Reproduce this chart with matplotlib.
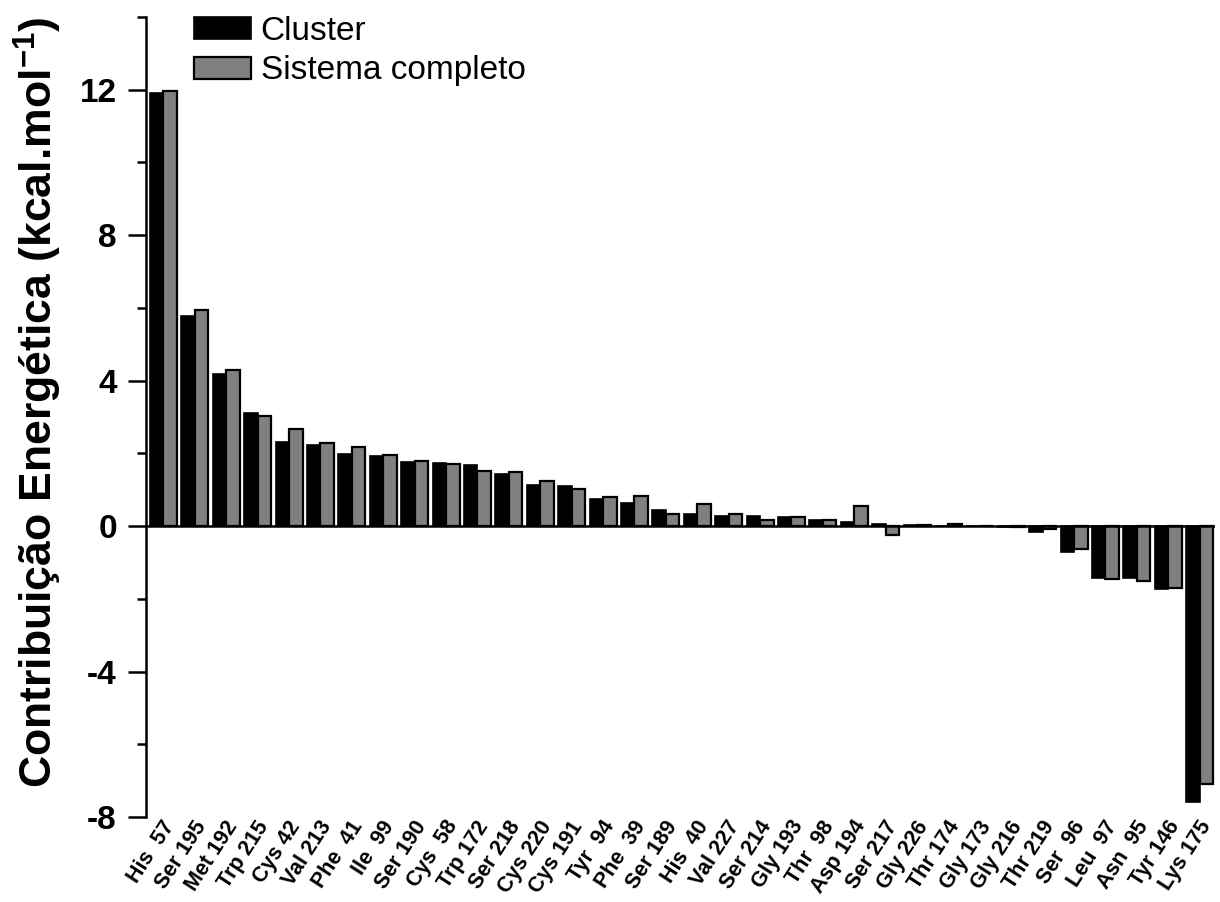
import matplotlib
matplotlib.use("Agg")
import matplotlib.pyplot as plt
import matplotlib.transforms as mtransforms
import numpy as np

plt.rcParams['font.family'] = ['Liberation Sans', 'DejaVu Sans']
plt.rcParams['axes.unicode_minus'] = False
plt.rcParams['mathtext.fontset'] = 'custom'
plt.rcParams['mathtext.rm'] = 'Liberation Sans'
plt.rcParams['mathtext.bf'] = 'Liberation Sans:bold'

residues = ["His  57", "Ser 195", "Met 192", "Trp 215", "Cys 42", "Val 213", "Phe  41",
            "Ile  99", "Ser 190", "Cys  58", "Trp 172", "Ser 218", "Cys 220", "Cys 191",
            "Tyr  94", "Phe  39", "Ser 189", "His  40", "Val 227", "Ser 214", "Gly 193",
            "Thr  98", "Asp 194", "Ser 217", "Gly 226", "Thr 174", "Gly 173", "Gly 216",
            "Thr 219", "Ser  96", "Leu  97", "Asn  95", "Tyr 146", "Lys 175"]

cluster = [11.90, 5.77, 4.19, 3.12, 2.31, 2.24, 1.98, 1.92, 1.76, 1.73, 1.68, 1.42,
           1.14, 1.10, 0.74, 0.64, 0.45, 0.33, 0.28, 0.27, 0.25, 0.16, 0.11, 0.06,
           0.03, 0.0, 0.0, -0.03, -0.15, -0.70, -1.43, -1.43, -1.73, -7.58]

sistema = [11.97, 5.95, 4.30, 3.04, 2.66, 2.28, 2.18, 1.95, 1.79, 1.72, 1.52, 1.48,
           1.23, 1.01, 0.80, 0.82, 0.34, 0.62, 0.34, 0.18, 0.25, 0.18, 0.54, -0.25,
           0.03, 0.05, 0.0, -0.03, -0.07, -0.63, -1.45, -1.51, -1.70, -7.10]

series_names = ["Cluster", "Sistema completo"]

fig = plt.figure(figsize=(12.2, 9.02), dpi=100)
ax = fig.add_axes([146/1220, 1 - 817/902, (1215 - 146)/1220, (817 - 17)/902])

x = np.arange(len(residues))
w = 0.43
ax.bar(x - w/2, cluster, width=w, color='black', edgecolor='black', linewidth=1.2,
       label=series_names[0], zorder=2)
ax.bar(x + w/2, sistema, width=w, color='#808080', edgecolor='black', linewidth=1.6,
       label=series_names[1], zorder=2)

ax.axhline(0, color='black', linewidth=1.8, zorder=3)

ax.set_xlim(-0.557, 33.49)
ax.set_ylim(-8, 14)

for s in ['top', 'right', 'bottom']:
    ax.spines[s].set_visible(False)
ax.spines['left'].set_linewidth(1.8)

ax.set_yticks([-8, -4, 0, 4, 8, 12])
ax.set_yticks([-6, -2, 2, 6, 10, 14], minor=True)
ax.tick_params(axis='y', which='major', direction='out', length=13, width=1.8,
               labelsize=24, pad=8)
ax.tick_params(axis='y', which='minor', direction='out', length=6.5, width=1.8)
for lab in ax.get_yticklabels():
    lab.set_fontweight('bold')

ax.set_xticks(x)
ax.set_xticklabels(residues, rotation=57, ha='right', va='center',
                   rotation_mode='anchor', fontsize=15.5, fontweight='bold')
ax.tick_params(axis='x', which='both', length=0, pad=4)
offset = mtransforms.ScaledTranslation(7/100, 0, fig.dpi_scale_trans)
for lab in ax.get_xticklabels():
    lab.set_transform(lab.get_transform() + offset)

ax.set_ylabel(r"Contribuição Energética (kcal.mol$^{\mathbf{-1}}$)", fontsize=32,
              fontweight='bold')
ax.yaxis.set_label_coords(-0.077, 0.518)

leg = ax.legend(loc='upper left', bbox_to_anchor=(194/1220, 1 - 16/902),
                bbox_transform=fig.transFigure, frameon=False, fontsize=24,
                handlelength=1.7, handleheight=0.64, handletextpad=0.3,
                labelspacing=0.25, borderpad=0, borderaxespad=0)

fig.savefig("out.png", dpi=100)
